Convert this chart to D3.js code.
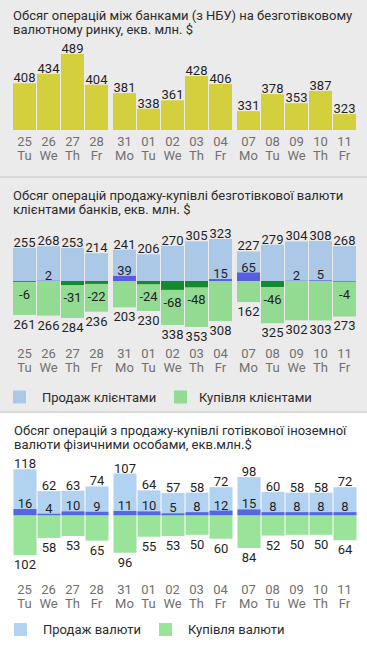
<!DOCTYPE html>
<html>
<head>
<meta charset="utf-8">
<script src="https://cdn.jsdelivr.net/npm/d3@7"></script>
<style>
  body { margin: 0; background: #fff; }
  svg { display: block; font-family: Roboto, "Noto Sans", sans-serif; }
  .title { font-size: 13px; fill: #2b2b2b; }
  .val { font-size: 13px; fill: #1f1f1f; text-anchor: middle; }
  .tick-lbl { font-size: 13px; fill: #707070; text-anchor: middle; }
  .legend { font-size: 13px; fill: #2b2b2b; }
</style>
</head>
<body>
<script>
// days and weekdays shared by all three charts
const days = ["25","26","27","28","31","01","02","03","04","07","08","09","10","11"];
const weekdays = ["Tu","We","Th","Fr","Mo","Tu","We","Th","Fr","Mo","Tu","We","Th","Fr"];

// chart 1: interbank volume
const interbank = [408,434,489,404,381,338,361,428,406,331,378,353,387,323];

// chart 2: clients' non-cash FX
const clientSell = [255,268,253,214,241,206,270,305,323,227,279,304,308,268];
const clientBuy  = [261,266,284,236,203,230,338,353,308,162,325,302,303,273];
const clientNet  = [-6,2,-31,-22,39,-24,-68,-48,15,65,-46,2,5,-4];

// chart 3: cash FX by individuals
const cashSell = [118,62,63,74,107,64,57,58,72,98,60,58,58,72];
const cashBuy  = [102,58,53,65,96,55,53,50,60,84,52,50,50,64];
const cashNet  = [16,4,10,9,11,10,5,8,12,15,8,8,8,8];

const titles1 = ["Обсяг операцій між банками (з НБУ) на безготівковому", "валютному ринку, екв. млн. $"];
const titles2 = ["Обсяг операцій продажу-купівлі безготівкової валюти", "клієнтами банків, екв. млн. $"];
const titles3 = ["Обсяг операцій з продажу-купівлі готівкової іноземної", "валюти фізичними особами, екв.млн.$"];
const legend2 = ["Продаж клієнтами", "Купівля клієнтами"];
const legend3 = ["Продаж валюти", "Купівля валюти"];

// week number for each day (new week starts on Monday)
let w = 0;
const week = weekdays.map((d, i) => { if (i > 0 && d === "Mo") w++; return w; });

const svg = d3.select("body").append("svg")
    .attr("width", 367)
    .attr("height", 646);

// panels
svg.append("rect").attr("x", 0).attr("y", 0).attr("width", 367).attr("height", 176).attr("fill", "#ebebeb");
svg.append("rect").attr("x", 0).attr("y", 176).attr("width", 367).attr("height", 2).attr("fill", "#d8d8d8");
svg.append("rect").attr("x", 0).attr("y", 178).attr("width", 367).attr("height", 233).attr("fill", "#ebebeb");
svg.append("rect").attr("x", 0).attr("y", 411).attr("width", 367).attr("height", 2).attr("fill", "#dadada");
svg.append("rect").attr("x", 0).attr("y", 413).attr("width", 367).attr("height", 233).attr("fill", "#ffffff");

const x = d3.scaleBand()
    .domain(days)
    .range([13, 348])
    .paddingInner(1 / 24);
const bw = x.bandwidth();
const xPos = (i) => x(days[i]) + week[i] * 4;
const xMid = (i) => xPos(i) + bw / 2;

function title(lines, y0, dx) {
  svg.append("text").attr("class", "title")
    .attr("x", dx).attr("y", y0)
    .selectAll("tspan").data(lines).enter().append("tspan")
    .attr("x", dx)
    .attr("dy", (d, i) => i === 0 ? 0 : 14)
    .text(d => d);
}

function dayLabels(y0) {
  const g = svg.append("g");
  g.selectAll(".d").data(days).enter().append("text")
    .attr("class", "tick-lbl")
    .attr("x", (d, i) => xMid(i))
    .attr("y", y0)
    .text(d => d);
  g.selectAll(".wd").data(weekdays).enter().append("text")
    .attr("class", "tick-lbl")
    .attr("x", (d, i) => xMid(i))
    .attr("y", y0 + 14)
    .text(d => d);
}

function legend(labels, y0, colors, xs) {
  labels.forEach((l, i) => {
    svg.append("rect").attr("x", xs[i][0]).attr("y", y0 - 11).attr("width", 13).attr("height", 13).attr("fill", colors[i]);
    svg.append("text").attr("class", "legend").attr("x", xs[i][1]).attr("y", y0).text(l);
  });
}

// ---------- chart 1 ----------
title(titles1, 19.5, 13);

const y1 = d3.scaleLinear().domain([279, 489]).range([130, 54]);

svg.append("g").selectAll("rect").data(interbank).enter().append("rect")
  .attr("x", (d, i) => xPos(i))
  .attr("y", d => y1(d))
  .attr("width", bw)
  .attr("height", d => y1(279) - y1(d))
  .attr("fill", "#d4cf3c");

svg.append("g").selectAll("text").data(interbank).enter().append("text")
  .attr("class", "val")
  .attr("x", (d, i) => xMid(i))
  .attr("y", d => y1(d) - 1)
  .text(d => d);

dayLabels(146);

// ---------- chart 2 ----------
title(titles2, 199.5, 13);

const y2 = d3.scaleLinear().domain([-360, 360]).range([327.8, 234.2]);
const g2 = svg.append("g");

g2.selectAll(".sell").data(clientSell).enter().append("rect")
  .attr("x", (d, i) => xPos(i))
  .attr("y", d => y2(d))
  .attr("width", bw)
  .attr("height", d => y2(0) - y2(d))
  .attr("fill", "#abc8e7");

g2.selectAll(".buy").data(clientBuy).enter().append("rect")
  .attr("x", (d, i) => xPos(i))
  .attr("y", y2(0))
  .attr("width", bw)
  .attr("height", d => y2(-d) - y2(0))
  .attr("fill", "#93da92");

g2.selectAll(".net").data(clientNet).enter().append("rect")
  .attr("x", (d, i) => xPos(i))
  .attr("y", d => d > 0 ? y2(d) : y2(0))
  .attr("width", bw)
  .attr("height", d => Math.abs(y2(d) - y2(0)))
  .attr("fill", d => d > 0 ? "#5a5de0" : "#138a2c");

g2.selectAll(".sl").data(clientSell).enter().append("text")
  .attr("class", "val")
  .attr("x", (d, i) => xMid(i))
  .attr("y", d => y2(d) - 1)
  .text(d => d);

g2.selectAll(".bl").data(clientBuy).enter().append("text")
  .attr("class", "val")
  .attr("x", (d, i) => xMid(i))
  .attr("y", d => y2(-d) + 14)
  .text(d => d);

g2.selectAll(".nl").data(clientNet).enter().append("text")
  .attr("class", "val")
  .attr("x", (d, i) => xMid(i))
  .attr("y", d => d > 0 ? y2(d) - 1 : y2(d) + 17)
  .text(d => d);

dayLabels(358);
legend(legend2, 401.5, ["#abc8e7", "#93da92"], [[13, 42], [174, 199]]);

// ---------- chart 3 ----------
title(titles3, 435, 14);

const y3 = d3.scaleLinear().domain([-120, 120]).range([562.1, 468.5]);
const g3 = svg.append("g");

g3.selectAll(".sell").data(cashSell).enter().append("rect")
  .attr("x", (d, i) => xPos(i) + 0.5)
  .attr("y", d => y3(d))
  .attr("width", bw)
  .attr("height", d => y3(0) - y3(d))
  .attr("fill", "#b2d2f2");

g3.selectAll(".buy").data(cashBuy).enter().append("rect")
  .attr("x", (d, i) => xPos(i) + 0.5)
  .attr("y", y3(0))
  .attr("width", bw)
  .attr("height", d => y3(-d) - y3(0))
  .attr("fill", "#9ae39a");

g3.selectAll(".net").data(cashNet).enter().append("rect")
  .attr("x", (d, i) => xPos(i) + 0.5)
  .attr("y", d => y3(d))
  .attr("width", bw)
  .attr("height", d => y3(0) - y3(d))
  .attr("fill", "#5566e0");

g3.selectAll(".sl").data(cashSell).enter().append("text")
  .attr("class", "val")
  .attr("x", (d, i) => xMid(i) + 0.5)
  .attr("y", d => y3(d) - 1)
  .text(d => d);

g3.selectAll(".bl").data(cashBuy).enter().append("text")
  .attr("class", "val")
  .attr("x", (d, i) => xMid(i) + 0.5)
  .attr("y", d => y3(-d) + 14)
  .text(d => d);

g3.selectAll(".nl").data(cashNet).enter().append("text")
  .attr("class", "val")
  .attr("x", (d, i) => xMid(i) + 0.5)
  .attr("y", d => y3(d) - 1)
  .text(d => d);

dayLabels(594);
legend(legend3, 634, ["#b2d2f2", "#9ae39a"], [[14, 43], [159, 188]]);
</script>
</body>
</html>
